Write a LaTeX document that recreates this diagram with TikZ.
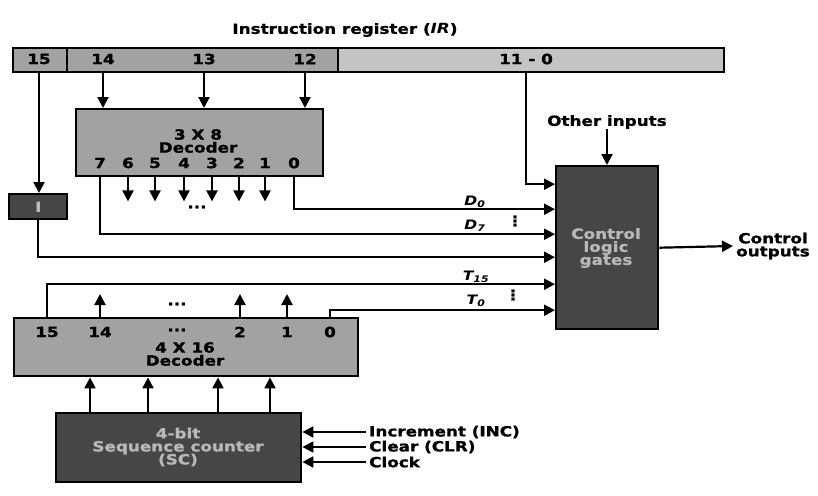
\documentclass[tikz,border=0pt]{standalone}
\usepackage{fontspec}
\setmainfont{DejaVu Sans}[FakeStretch=1.2, BoldFeatures={FakeBold=1.2}]
\usepackage{tikz}
\usetikzlibrary{arrows.meta,positioning,calc}
\definecolor{regfill}{HTML}{A2A2A2}
\definecolor{lightfill}{HTML}{C4C4C4}
\definecolor{darkfill}{HTML}{464646}
\definecolor{darktext}{HTML}{B8B8B8}

\tikzset{
  lbl/.style={font=\fontsize{14}{15}\selectfont\bfseries, inner sep=0pt},
  box/.style={draw, line width=2.4pt, anchor=north west, inner sep=0pt},
  graybox/.style={box, fill=regfill},
  darkbox/.style={box, fill=darkfill, text=darktext, align=center,
                  font=\fontsize{14}{15}\selectfont\bfseries},
  wire/.style={line width=2.2pt},
  arr/.style={wire, -{Triangle[length=11pt,width=11pt]}}
}

\begin{document}
\begin{tikzpicture}[x=1pt,y=-1pt]
    \useasboundingbox (0,0) rectangle (818,495);

    % instruction register
    \node[lbl] (irtitle) at (345,30) {Instruction register ({\itshape IR})};
    \node[graybox, minimum width=54, minimum height=24] (irA) at (12,47) {};
    \node[graybox, minimum width=271, minimum height=24] (irB) at (66,47) {};
    \node[box, fill=lightfill, minimum width=386, minimum height=24] (irC) at (337,47) {};
    \node[lbl] (ir15) at (39,59) {15};
    \node[lbl] (ir14) at (103,59) {14};
    \node[lbl] (ir13) at (204,59) {13};
    \node[lbl] (ir12) at (305,59) {12};
    \node[lbl] (ir110) at (526,59) {11 - 0};

    % 3 x 8 decoder
    \node[graybox, minimum width=247, minimum height=67] (dec38) at (75,108) {};
    \node[lbl, align=center] (dec38lbl) at (198,141) {3 X 8\\[-2pt]Decoder};
    \foreach \d/\x in {7/100,6/128,5/155,4/184,3/212,2/239,1/265,0/294}
        \node[lbl] (o\d) at (\x,163) {\d};

    % I flip-flop, control logic, 4 x 16 decoder, sequence counter
    \node[darkbox, minimum width=58, minimum height=25] (iff) at (8,193) {I};
    \node[darkbox, minimum width=102, minimum height=163] (clg) at (555,165) {};
    \node[lbl, text=darktext, align=center] (clglbl) at (606,248) {Control\\[-2pt]logic\\[-2pt]gates};
    \node[graybox, minimum width=344, minimum height=58] (dec416) at (13,317) {};
    \node[lbl, align=center] (dec416lbl) at (185,354) {4 X 16\\[-2pt]Decoder};
    \foreach \t/\x in {15/47,14/100,2/240,1/287,0/330}
        \node[lbl] (t\t) at (\x,332) {\t};
    \node[lbl] (tdots) at (177,330) {...};
    \node[darkbox, minimum width=245, minimum height=69] (sc) at (55,412) {};
    \node[lbl, text=darktext, align=center] (sclbl) at (178,447) {4-bit\\[-2pt]Sequence counter\\[-2pt](SC)};

    % other labels
    \node[lbl] (oth) at (607,122) {Other inputs};
    \node[lbl, align=center, inner sep=3pt] (cout) at (773,246) {Control\\[-2pt]outputs};
    \node[lbl, anchor=west, inner sep=3pt] (inc) at (366,432) {Increment (INC)};
    \node[lbl, anchor=west, inner sep=3pt] (clr) at (366,447) {Clear (CLR)};
    \node[lbl, anchor=west, inner sep=3pt] (clk) at (366,462) {Clock};
    \node[lbl, font=\fontsize{13}{13}\selectfont\bfseries\itshape] (dz) at (475,202) {D\textsubscript{0}};
    \node[lbl, font=\fontsize{13}{13}\selectfont\bfseries\itshape] (ds) at (475,226) {D\textsubscript{7}};
    \node[lbl, font=\fontsize{13}{13}\selectfont\bfseries\itshape] (tf) at (476,277) {T\textsubscript{15}};
    \node[lbl, font=\fontsize{13}{13}\selectfont\bfseries\itshape] (tz) at (476,301) {T\textsubscript{0}};
    \node[lbl] (ddots) at (515,221) {⋮};
    \node[lbl] (tvdots) at (513,295) {⋮};
    \node[lbl] (odots) at (197,207) {...};
    \node[lbl] (updots) at (177,304) {...};

    % IR to decoder and flip-flop
    \foreach \b in {14,13,12}
        \draw[arr] (ir\b |- irB.south) -- (ir\b |- dec38.north);
    \draw[arr] (ir15 |- irA.south) -- (ir15 |- iff.north);

    % inputs of control logic gates
    \draw[arr] (ir110 |- irC.south) |- ($(clg.west)+(0,-63.5)$);
    \draw[arr] (o0 |- dec38.south) |- ($(clg.west)+(0,-38.5)$);
    \draw[arr] (o7 |- dec38.south) |- ($(clg.west)+(0,-13.5)$);
    \draw[arr] (iff.south) |- ($(clg.west)+(0,9.5)$);
    \draw[arr] (t15 |- dec416.north) |- ($(clg.west)+(0,36.5)$);
    \draw[arr] (t0 |- dec416.north) |- ($(clg.west)+(0,62.5)$);
    \draw[arr] (oth.south) -- (oth.south |- clg.north);
    \draw[arr] (clg.east) -- (cout.west);

    % other decoder outputs
    \foreach \d in {6,...,1}
        \draw[arr] (o\d |- dec38.south) -- ++(0,24);
    \foreach \t in {14,2,1}
        \draw[arr] (t\t |- dec416.north) -- ++(0,-23);

    % sequence counter
    \foreach \x in {90,148,218,270}
        \draw[arr] (sc.north -| \x,0) -- (dec416.south -| \x,0);
    \foreach \s in {inc,clr,clk}
        \draw[arr] (\s.west) -- (\s.west -| sc.east);
\end{tikzpicture}
\end{document}
